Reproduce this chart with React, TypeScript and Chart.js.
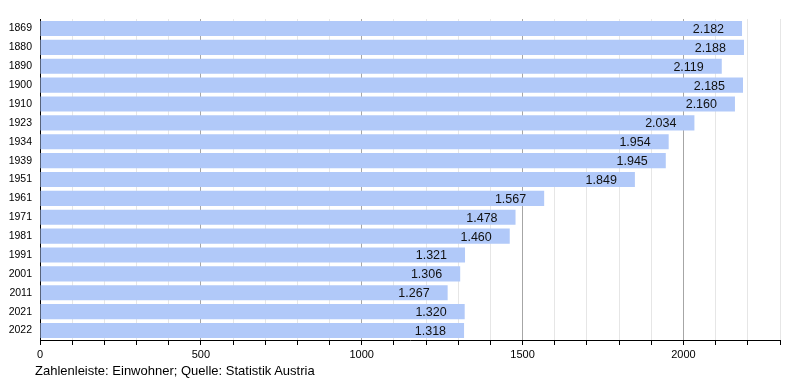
import React, { useEffect, useRef } from "react";
import { Chart, registerables } from "chart.js";

Chart.register(...registerables);

const years = ["1869", "1880", "1890", "1900", "1910", "1923", "1934", "1939", "1951", "1961", "1971", "1981", "1991", "2001", "2011", "2021", "2022"];
const population = [2182, 2188, 2119, 2185, 2160, 2034, 1954, 1945, 1849, 1567, 1478, 1460, 1321, 1306, 1267, 1320, 1318];
const xTickLabels = [0, 500, 1000, 1500, 2000];
const caption = "Zahlenleiste: Einwohner; Quelle: Statistik Austria";

const FONT = "'Liberation Sans', Arial, 'DejaVu Sans', sans-serif";

const fmt = (v: number) => {
  const s = String(v);
  return s.length > 3 ? s.slice(0, s.length - 3) + "." + s.slice(s.length - 3) : s;
};

const valueLabels = {
  id: "valueLabels",
  afterDatasetsDraw(chart: any) {
    const ctx = chart.ctx;
    const meta = chart.getDatasetMeta(0);
    ctx.save();
    ctx.font = `12.5px ${FONT}`;
    ctx.fillStyle = "#111";
    ctx.textAlign = "right";
    ctx.textBaseline = "middle";
    meta.data.forEach((el: any, i: number) => {
      ctx.fillText(fmt(population[i]), el.x - 18, el.y + 1);
    });
    ctx.restore();
  },
};

export default function App() {
  const ref = useRef<HTMLCanvasElement | null>(null);
  useEffect(() => {
    if (!ref.current) return;
    const chart = new Chart(ref.current, {
      type: "bar",
      data: {
        labels: years,
        datasets: [
          {
            data: population,
            backgroundColor: "#b1c9f9",
            borderWidth: 0,
            barPercentage: 0.8,
            categoryPercentage: 1,
          },
        ],
      },
      options: {
        indexAxis: "y",
        animation: false,
        responsive: false,
        maintainAspectRatio: false,
        layout: { padding: { left: 0, right: 20, top: 19, bottom: 0 } },
        plugins: { legend: { display: false }, tooltip: { enabled: false } },
        scales: {
          x: {
            min: 0,
            max: 2300,
            afterFit: (s: any) => { s.height = 40; },
            border: { color: "#000", width: 1 },
            grid: {
              color: (c: any) => {
                const v = c.tick ? c.tick.value : 0;
                return v % 500 === 0 ? "#a6a6a6" : "#e6e6e6";
              },
              tickColor: "#000",
              tickLength: 5,
            },
            ticks: {
              stepSize: 100,
              autoSkip: false,
              maxRotation: 0,
              color: "#000",
              font: { size: 11, family: FONT },
              padding: 3,
              callback: (v: any) => (xTickLabels.includes(Number(v)) ? String(v) : ""),
            },
          },
          y: {
            afterFit: (s: any) => { s.width = 40; },
            border: { color: "#000", width: 1 },
            grid: { display: false, drawTicks: false },
            ticks: {
              color: "#000",
              font: { size: 10.5, family: FONT },
              padding: 8,
              autoSkip: false,
            },
          },
        },
      },
      plugins: [valueLabels],
    });
    return () => chart.destroy();
  }, []);
  return (
    <div style={{ position: "fixed", left: 0, top: 0, width: 800, height: 380, background: "#fff" }}>
      <canvas ref={ref} width={800} height={380} style={{ position: "absolute", left: 0, top: 0 }} />
      <div
        style={{
          position: "absolute",
          left: 35,
          top: 363,
          fontFamily: FONT,
          fontSize: 13,
          color: "#000",
          whiteSpace: "nowrap",
          lineHeight: "15px",
        }}
      >
        {caption}
      </div>
    </div>
  );
}
